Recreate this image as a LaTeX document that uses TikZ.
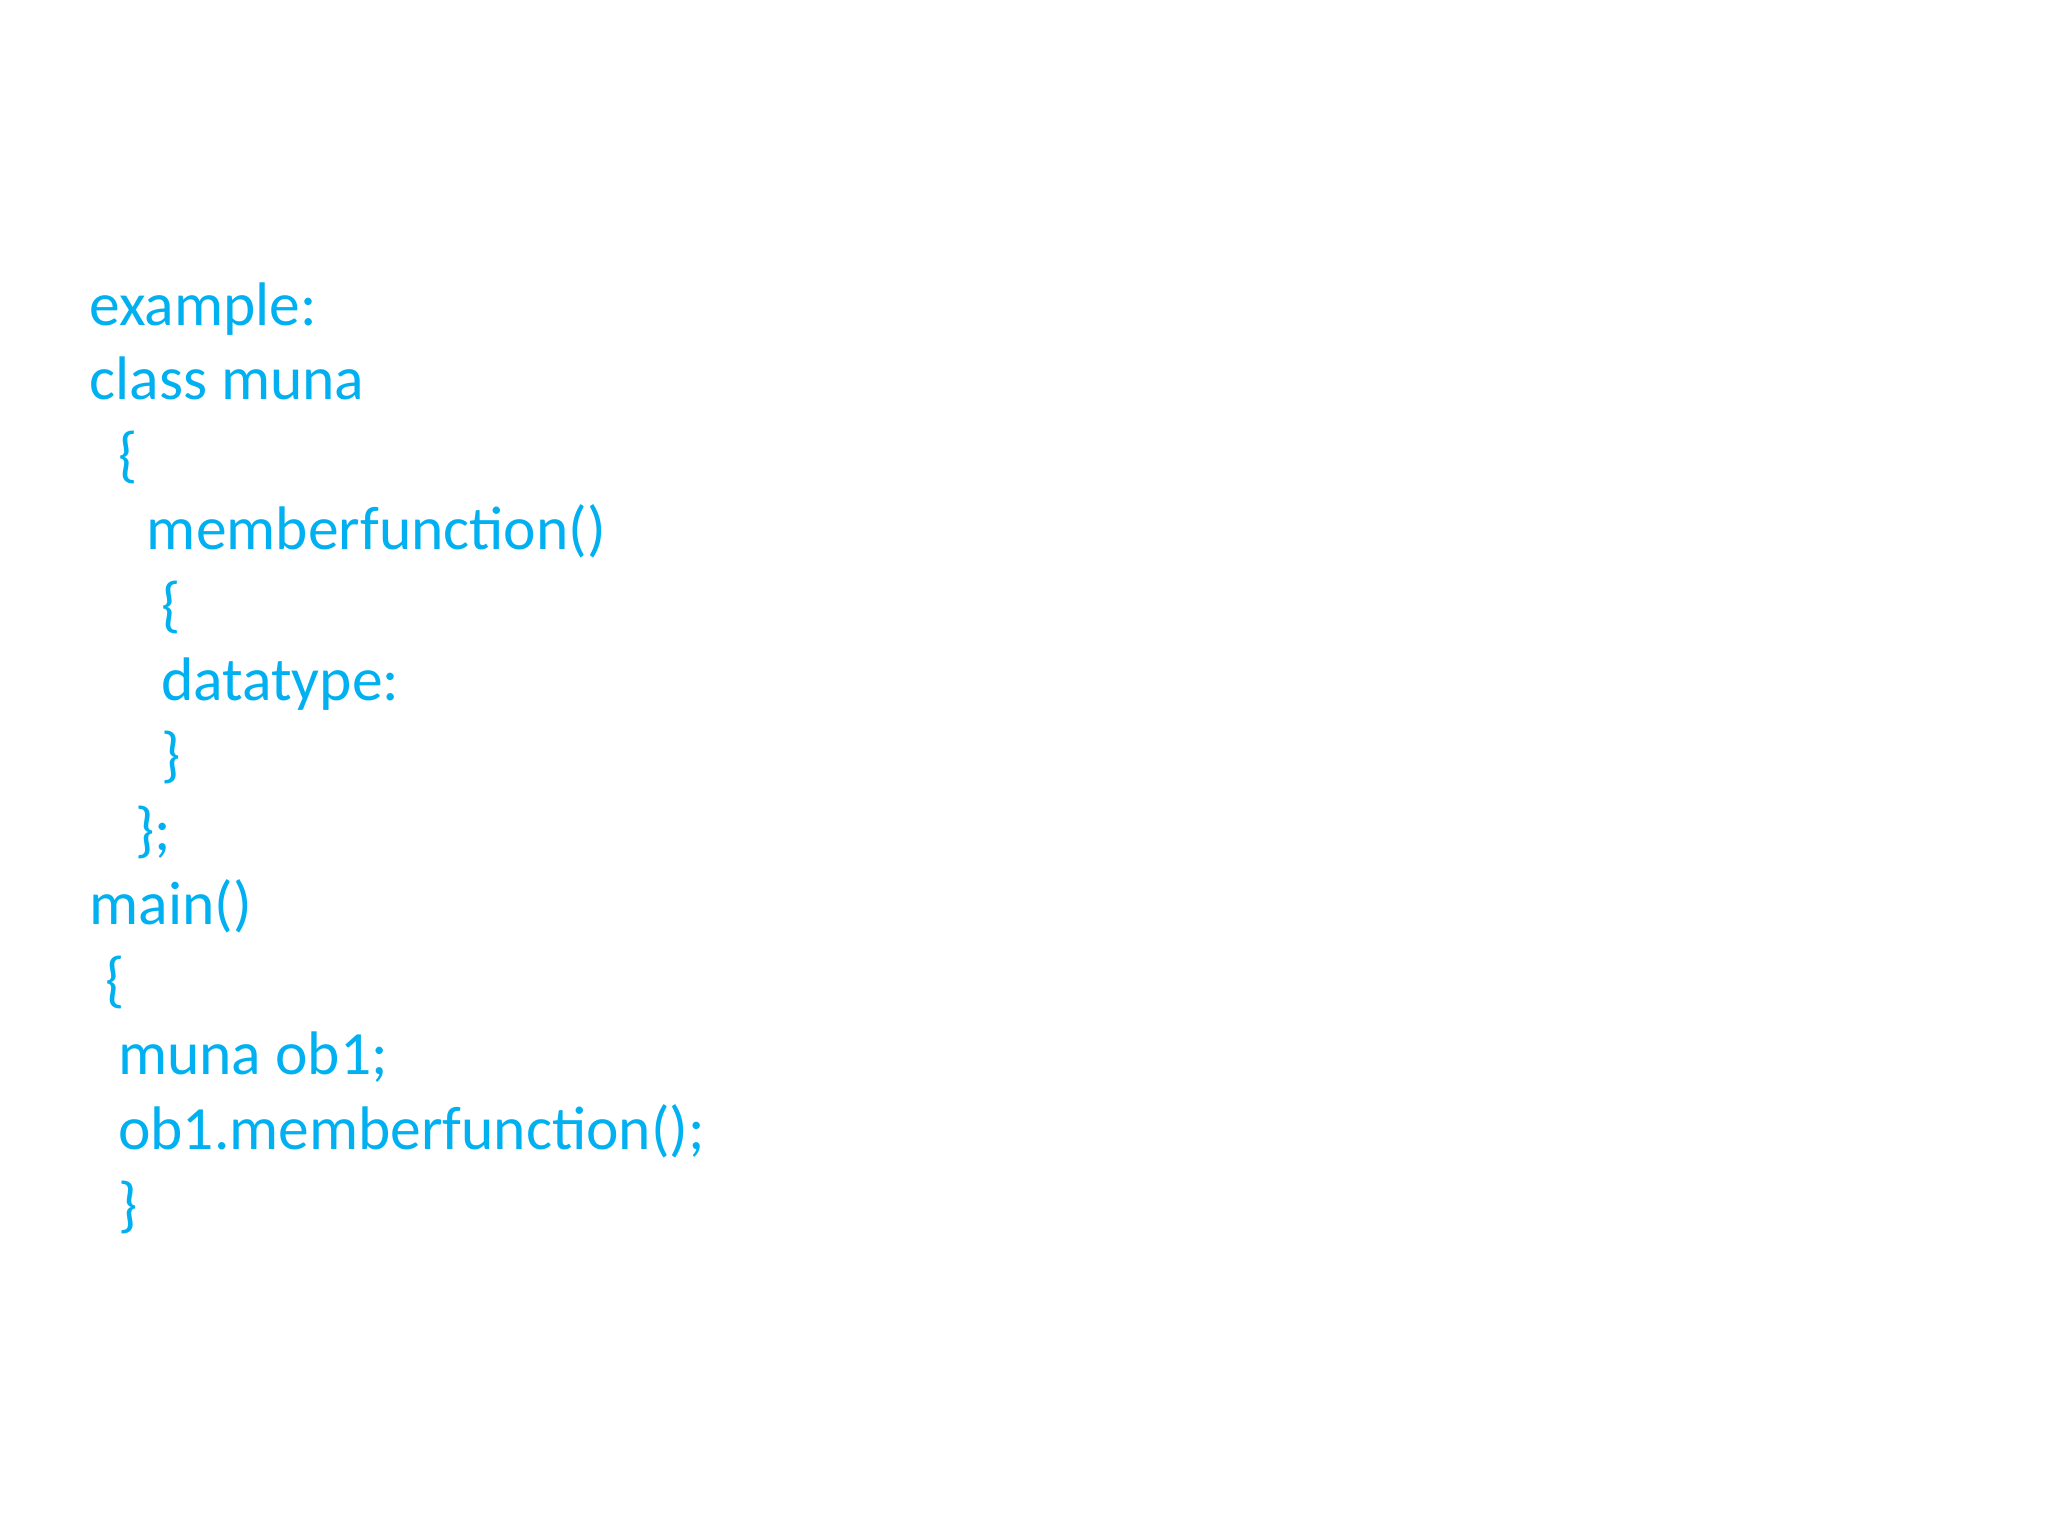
\documentclass[tikz,border=0pt]{standalone}
\usepackage{fontspec}
\setmainfont{Carlito}
\definecolor{cy}{RGB}{0,176,240}
\begin{document}
\begin{tikzpicture}[x=0.01306cm,y=-0.01306cm,
  code/.style={anchor=base west,inner sep=0pt,text=cy,font=\fontsize{17.5pt}{20pt}\selectfont}]
\useasboundingbox (0,0) rectangle (1568,1176);
\node[code] (l1) at (68,249) {example:};
\node[code] (l2) at (68,306) {class muna};
\node[code] (l3) at (90,364) {\{};
\node[code] (l4) at (112,421) {memberfunction()};
\node[code] (l5) at (123,479) {\{};
\node[code] (l6) at (123,536) {datatype:};
\node[code] (l7) at (123,594) {\}};
\node[code] (l8) at (103,651) {\};};
\node[code] (l9) at (68,708) {main()};
\node[code] (l10) at (80,766) {\{};
\node[code] (l11) at (90,823) {muna ob1;};
\node[code] (l12) at (90,880) {ob1.memberfunction();};
\node[code] (l13) at (90,938) {\}};
\end{tikzpicture}
\end{document}
